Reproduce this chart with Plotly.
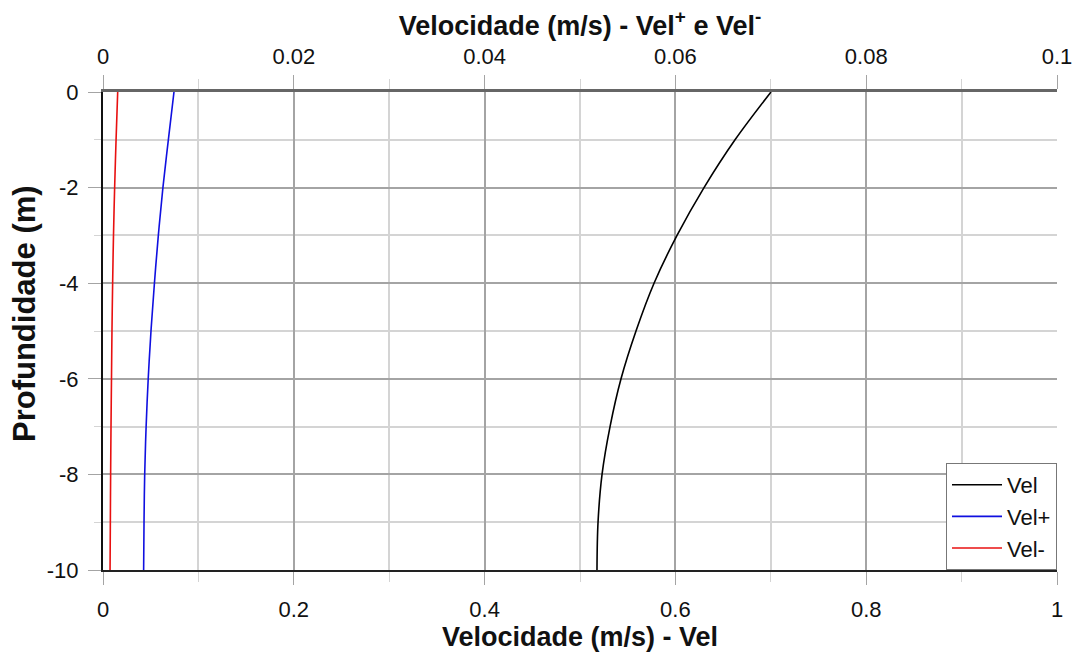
import plotly.graph_objects as go

depth = [0, -1, -2, -3, -4, -5, -6, -7, -8, -9, -10]
vel = [0.7002, 0.6625, 0.6300, 0.6017, 0.5776, 0.5587, 0.5430, 0.5315, 0.5231, 0.5189, 0.5178]
vel_plus = [0.00744, 0.00685, 0.00628, 0.00580, 0.00539, 0.00503, 0.00474, 0.00452, 0.00437, 0.00430, 0.00426]
vel_minus = [0.00154, 0.00137, 0.00122, 0.00110, 0.00101, 0.00094, 0.00089, 0.00084, 0.00080, 0.00077, 0.00074]

y_tickvals = [0, -2, -4, -6, -8, -10]
y_ticktext = ["0", "-2", "-4", "-6", "-8", "-10"]
x_tickvals = [0, 0.2, 0.4, 0.6, 0.8, 1]
x_ticktext = ["0", "0.2", "0.4", "0.6", "0.8", "1"]
x2_tickvals = [0, 0.02, 0.04, 0.06, 0.08, 0.1]
x2_ticktext = ["0", "0.02", "0.04", "0.06", "0.08", "0.1"]

FONT = "Liberation Sans, Arial, sans-serif"
MAJ = "#a4a4a4"
MIN = "#d4d4d4"

fig = go.Figure()
fig.add_trace(go.Scatter(x=vel, y=depth, mode="lines", name="Vel",
                         line=dict(color="black", width=1.6, shape="spline"), xaxis="x", yaxis="y"))
fig.add_trace(go.Scatter(x=vel_plus, y=depth, mode="lines", name="Vel+",
                         line=dict(color="#1010e0", width=1.6, shape="spline"), xaxis="x2", yaxis="y"))
fig.add_trace(go.Scatter(x=vel_minus, y=depth, mode="lines", name="Vel-",
                         line=dict(color="#e81010", width=1.6, shape="spline"), xaxis="x2", yaxis="y"))

fig.update_layout(
    width=1075, height=652,
    margin=dict(l=103, r=18, t=92, b=82),
    paper_bgcolor="white", plot_bgcolor="white",
    font=dict(family=FONT, size=22, color="#111"),
    showlegend=True,
    legend=dict(x=1, y=0, xanchor="right", yanchor="bottom",
                bgcolor="white", bordercolor="#777", borderwidth=1,
                itemwidth=50, font=dict(size=22)),
    xaxis=dict(range=[0, 1], tickvals=x_tickvals, ticktext=x_ticktext,
               showgrid=True, gridcolor=MAJ, gridwidth=1.5,
               ticks="outside", ticklen=13, tickcolor=MAJ, ticklabelstandoff=6,
               minor=dict(dtick=0.1, showgrid=True, gridcolor=MIN, gridwidth=1.5,
                          ticks="outside", ticklen=10, tickcolor=MIN),
               showline=True, linecolor="#222", linewidth=2, zeroline=False, automargin=False,
               tickfont=dict(size=22),
               title=dict(text="<b>Velocidade (m/s) - Vel</b>", font=dict(size=27), standoff=2)),
    xaxis2=dict(range=[0, 0.1], tickvals=x2_tickvals, ticktext=x2_ticktext,
                overlaying="x", side="top", anchor="y",
                showgrid=False, ticks="outside", ticklen=14, tickcolor=MAJ, ticklabelstandoff=2,
                minor=dict(dtick=0.01, ticks="outside", ticklen=10, tickcolor=MIN),
                showline=True, linecolor="#666", linewidth=2.5, zeroline=False, automargin=False,
                tickfont=dict(size=22),
                title=dict(text="<b>Velocidade (m/s) - Vel<sup>+</sup> e Vel<sup>-</sup></b>",
                           font=dict(size=27), standoff=2)),
    yaxis=dict(range=[-10, 0], tickvals=y_tickvals, ticktext=y_ticktext,
               showgrid=True, gridcolor=MAJ, gridwidth=1.5,
               ticks="outside", ticklen=13, tickcolor=MAJ, ticklabelstandoff=5,
               minor=dict(dtick=1, showgrid=True, gridcolor=MIN, gridwidth=1.5,
                          ticks="outside", ticklen=7, tickcolor=MIN),
               showline=True, linecolor="#111", linewidth=2, zeroline=False, automargin=False,
               tickfont=dict(size=22)),
    yaxis2=dict(range=[-10, 0], overlaying="y", side="right", anchor="x",
                showline=True, linecolor="#777", linewidth=2, showgrid=False,
                showticklabels=False, ticks="", zeroline=False, automargin=False),
    annotations=[dict(text="<b>Profundidade (m)</b>", textangle=-90,
                      xref="paper", yref="paper", x=0, y=0.5,
                      xanchor="center", yanchor="middle", xshift=-79, yshift=17,
                      showarrow=False, font=dict(size=31, family=FONT, color="#111"))],
)

fig.write_html("out.html")
